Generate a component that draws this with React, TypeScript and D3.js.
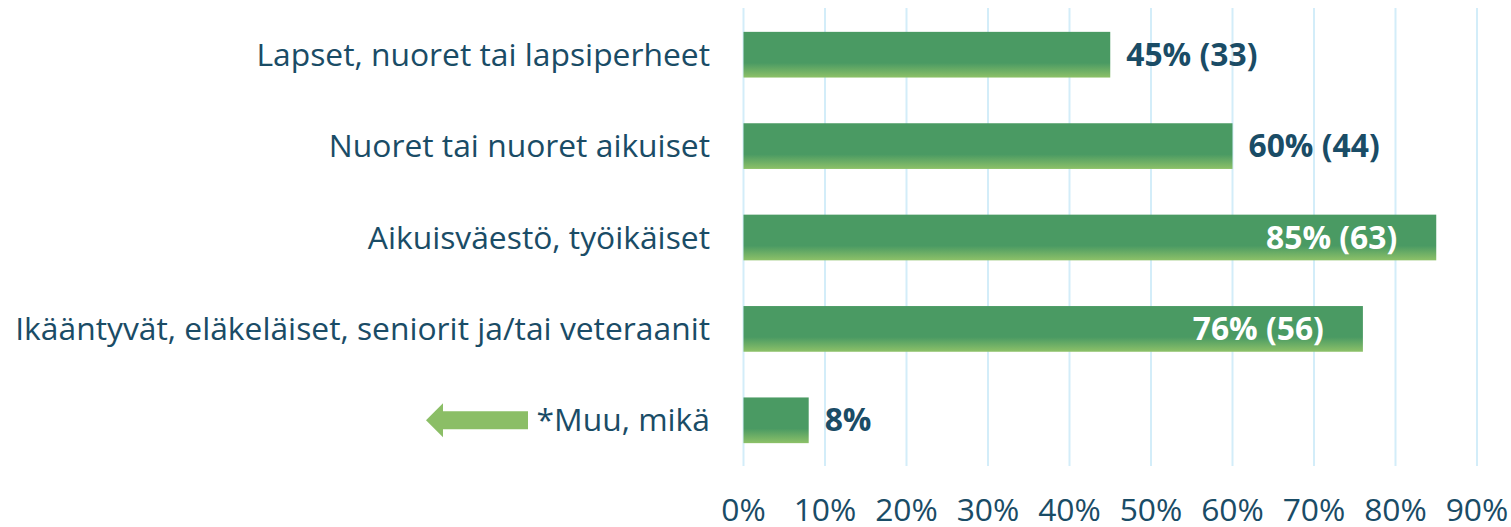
import React from "react";
import * as d3 from "d3";

const categories = [
  "Lapset, nuoret tai lapsiperheet",
  "Nuoret tai nuoret aikuiset",
  "Aikuisväestö, työikäiset",
  "Ikääntyvät, eläkeläiset, seniorit ja/tai veteraanit",
  "*Muu, mikä",
];
const values = [45, 60, 85, 76, 8];
const counts: (number | null)[] = [33, 44, 63, 56, null];
const ticks = [0, 10, 20, 30, 40, 50, 60, 70, 80, 90];

const W = 1511;
const H = 527;
const TEXT = "#1a4c66";
const FONT = "'Open Sans', 'Noto Sans', sans-serif";
const FS = 31.8;

export default function App() {
  const x = d3.scaleLinear().domain([0, 90]).range([743.5, 1477]);
  const y = d3.scaleBand<string>().domain(categories).range([9, 466]).paddingInner(0.5).paddingOuter(0.25);
  const bw = y.bandwidth();
  return (
    <svg width={W} height={H} style={{ position: "absolute", left: 0, top: 0 }}>
      <defs>
        <linearGradient id="barg" x1="0" y1="0" x2="0" y2="1">
          <stop offset="0" stopColor="#4a9a63" />
          <stop offset="0.68" stopColor="#4a9a63" />
          <stop offset="1" stopColor="#8dc168" />
        </linearGradient>
      </defs>
      {ticks.map((t) => (
        <line key={t} x1={x(t)} x2={x(t)} y1={8} y2={466} stroke="#d3edf9" strokeWidth={2} />
      ))}
      {categories.map((c, i) => {
        const y0 = y(c)!;
        const v = values[i];
        const inside = v >= 70;
        const label = counts[i] != null ? `${v}% (${counts[i]})` : `${v}%`;
        return (
          <g key={c}>
            <rect x={x(0)} y={y0} width={x(v) - x(0)} height={bw} fill="url(#barg)" />
            <text
              x={710}
              y={y0 + bw / 2}
              dy="0.35em"
              textAnchor="end"
              fontFamily={FONT}
              fontSize={FS}
              fill={TEXT}
            >
              {c}
            </text>
            <text
              x={inside ? x(v) - 39 : x(v) + 16}
              y={y0 + bw / 2}
              dy="0.35em"
              textAnchor={inside ? "end" : "start"}
              fontFamily={FONT}
              fontWeight="bold"
              fontSize={FS}
              fill={inside ? "#ffffff" : TEXT}
            >
              {label}
            </text>
          </g>
        );
      })}
      {ticks.map((t) => (
        <text
          key={"l" + t}
          x={x(t)}
          y={521}
          textAnchor="middle"
          fontFamily={FONT}
          fontSize={FS}
          fill={TEXT}
        >
          {t}%
        </text>
      ))}
      {(() => {
        const cy = y(categories[4])! + bw / 2;
        const pts: [number, number][] = [
          [426, cy],
          [443, cy - 17],
          [443, cy - 9],
          [528, cy - 9],
          [528, cy + 9],
          [443, cy + 9],
          [443, cy + 17],
        ];
        return <polygon points={pts.map((p) => p.join(",")).join(" ")} fill="#8bbe66" />;
      })()}
    </svg>
  );
}
